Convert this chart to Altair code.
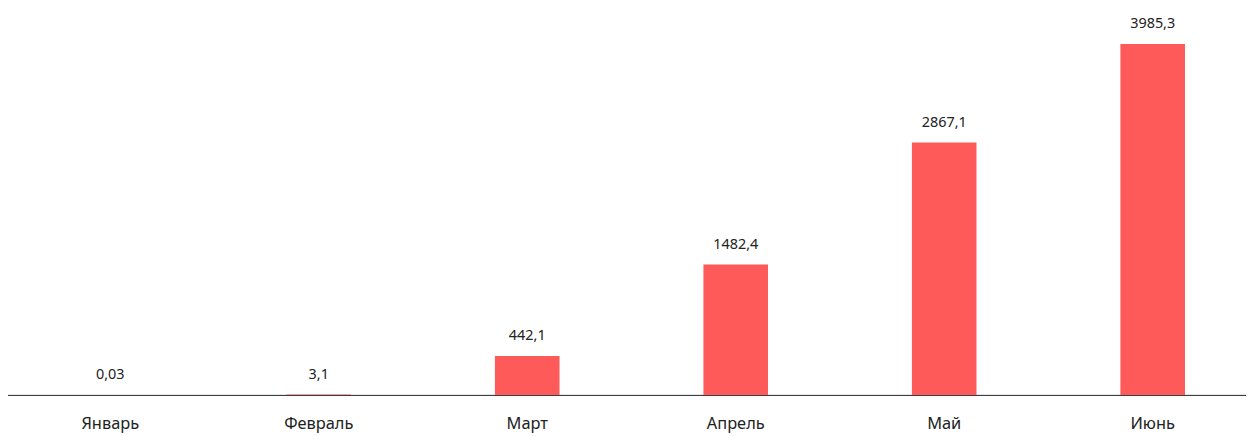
import altair as alt
import pandas as pd

months = ["Январь", "Февраль", "Март", "Апрель", "Май", "Июнь"]
values = [0.03, 3.1, 442.1, 1482.4, 2867.1, 3985.3]
labels = ["0,03", "3,1", "442,1", "1482,4", "2867,1", "3985,3"]

df = pd.DataFrame({"month": months, "value": values, "label": labels})

FONT = "Noto Sans"

x = alt.X("month:N", sort=months, title=None,
          scale=alt.Scale(paddingInner=0, paddingOuter=0, range=[-2, 1257]),
          axis=alt.Axis(labelAngle=0, ticks=False, domainColor="#222222",
                        domainWidth=1, labelFont=FONT, labelFontSize=16.5,
                        labelColor="#222222", labelPadding=21, grid=False))
y = alt.Y("value:Q", scale=alt.Scale(domain=[0, 4380], nice=False), axis=None)

bars = alt.Chart(df).mark_bar(size=65, color="#FF5A5A").encode(x=x, y=y)
text = alt.Chart(df).mark_text(baseline="bottom", dy=-13, font=FONT,
                               fontSize=14.5, color="#222222").encode(
    x=x, y=y, text="label:N")

chart = (bars + text).properties(
    width=1246, height=388,
    padding={"left": 0, "top": 0, "right": 0, "bottom": 40},
    autosize=alt.AutoSizeParams(type="none")
).configure_view(stroke=None)

chart.save("out.html", embed_options={"renderer": "svg", "actions": False})
